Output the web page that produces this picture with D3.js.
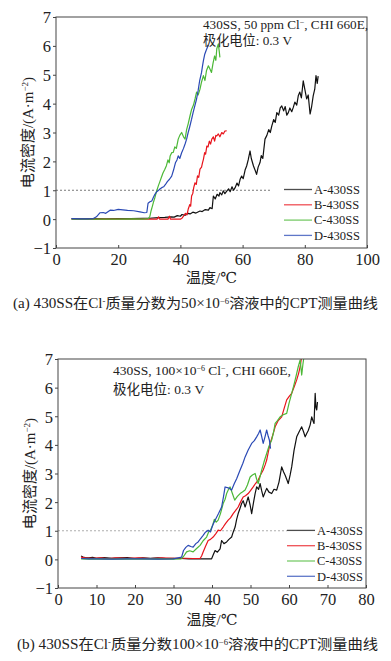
<!doctype html>
<html lang="zh">
  <head>
    <meta charset="utf-8">
    <title>430SS CPT</title>
    <style>
      body { margin: 0; background: #fff; }
      text { font-family: "Liberation Serif", "DejaVu Serif", "Noto Sans CJK SC", serif; fill: #222; }
    </style>
  </head>
  <body>
    <div id="chart"></div>
    <script src="https://cdn.jsdelivr.net/npm/d3@7"></script>
    <script>
    // sample names and colours
    var samples = ["A-430SS", "B-430SS", "C-430SS", "D-430SS"];
    var colors = ["#111111", "#e8141c", "#4cb837", "#2a49b5"];

    // panel (a): 50 ppm Cl-, [temperature, current density]
    var a_A = [[5,0.02],[8,0.01],[12,0.02],[16,0.01],[20,0.02],[24,0.02],[28,0.03],[30,0.03],[33,0.05],[35,0.06],[37,0.08],[38,0.07],[39,0.12],[40,0.1],[40.5,0.16],[41.5,0.13],[42.5,0.2],[43.1,0.18],[44,0.24],[45,0.21],[46.3,0.28],[47,0.26],[48,0.33],[49,0.31],[49.5,0.4],[50.2,0.36],[50.6,0.8],[51.2,0.7],[51.8,0.86],[52.4,0.8],[52.7,0.92],[53.3,0.84],[53.8,0.98],[54.3,0.88],[54.9,0.97],[55.5,1.05],[56,0.95],[56.6,1.12],[57.1,1.0],[57.6,1.09],[58.2,1.25],[58.7,1.15],[59.2,1.38],[59.7,1.49],[60.2,1.4],[60.8,1.7],[61.3,1.84],[61.8,2.05],[62.4,2.36],[62.8,2.1],[63.5,1.84],[64,1.7],[64.5,1.55],[65,1.8],[65.6,1.96],[66,2.2],[66.5,2.1],[67.2,2.77],[67.8,2.9],[68.4,3.1],[68.9,3.0],[69.4,3.23],[70,3.45],[70.5,3.35],[71,3.69],[71.6,3.6],[72.1,3.85],[72.6,3.92],[73.2,3.75],[73.7,3.9],[74.2,3.6],[74.7,3.69],[75.2,3.85],[75.8,3.72],[76.3,3.87],[76.8,4.05],[77.4,3.95],[77.9,4.27],[78.4,4.4],[78.9,4.2],[79.5,4.79],[80,4.5],[80.6,4.16],[81.1,4.3],[81.7,3.64],[82.2,3.9],[82.7,4.27],[83.2,4.5],[83.6,4.97],[84,4.7],[84.3,4.95]];
    var a_B = [[5,0],[10,0],[20,0],[30,0],[32.5,0],[33,0.08],[33.3,0],[36,0],[36.5,0.1],[36.8,0],[40,0],[40.4,0.02],[41,0.1],[41.6,0.2],[42.1,0.15],[42.5,0.34],[43,0.5],[43.3,0.45],[43.6,0.8],[44,0.9],[44.3,1.1],[44.7,1.26],[45.1,1.2],[45.5,1.5],[45.9,1.45],[46.3,1.73],[46.8,1.8],[47.1,1.95],[47.4,2.07],[47.8,2.3],[48.1,2.25],[48.5,2.53],[48.9,2.5],[49.3,2.7],[49.7,2.6],[50.1,2.77],[50.6,2.85],[51.0,2.7],[51.4,2.9],[51.7,2.88],[52.2,2.95],[52.7,2.85],[53.3,3.0],[53.8,2.95],[54.3,3.05],[54.9,3.06]];
    var a_C = [[5,0],[10,0],[15,0],[20,0],[25,0.01],[28,0],[29.7,0.02],[30.2,0.1],[30.6,0.3],[31.0,0.45],[31.3,0.57],[31.8,0.75],[32.3,0.95],[32.9,1.15],[33.4,1.3],[33.9,1.45],[34.4,1.6],[35,1.73],[35.5,1.85],[36,2.05],[36.4,1.95],[36.7,2.19],[37.2,2.3],[37.7,2.31],[38.2,2.5],[38.7,2.45],[39.3,2.77],[39.8,2.9],[40.4,3.0],[41,2.85],[41.5,2.77],[42,3.1],[42.5,3.3],[43.1,3.58],[43.6,3.8],[44.2,3.95],[44.7,4.16],[45.2,4.4],[45.7,4.3],[46.3,4.5],[46.8,4.75],[47.4,4.97],[47.9,4.8],[48.4,5.15],[49,5.31],[49.5,5.2],[50,5.08],[50.5,5.4],[51,5.65],[51.4,5.5],[51.7,5.9],[52.2,6.07],[52.5,5.8],[52.7,5.6]];
    var a_D = [[5,0.02],[8,0.01],[10,0.01],[12,0.02],[13,0.08],[14.1,0.22],[15.2,0.23],[16,0.2],[17.4,0.31],[18.5,0.3],[20,0.34],[21.5,0.32],[23,0.3],[25,0.29],[27,0.25],[28.4,0.22],[29.2,0.23],[29.6,0.55],[30.2,0.6],[30.8,0.63],[31.3,0.75],[31.8,0.86],[32.4,0.95],[33,1.0],[33.5,1.05],[34,1.09],[34.6,1.12],[35.2,1.2],[35.8,1.3],[36.5,1.38],[37.2,1.49],[37.8,1.7],[38.4,1.95],[38.9,2.05],[39.3,2.19],[39.8,2.1],[40.4,2.3],[41,2.45],[41.5,2.6],[42,2.77],[42.5,3.0],[43,3.2],[43.6,3.46],[44.1,3.7],[44.7,3.95],[45.2,4.16],[45.7,4.45],[46.2,4.8],[46.8,5.08],[47.1,5.3],[47.4,5.49],[47.8,5.7],[48.3,5.85],[49,6.03]];

    // panel (b): 100x10^-6 Cl-
    var b_A = [[6,0.12],[6.5,0.08],[7,0.06],[8,0.05],[9,0.07],[10,0.04],[12,0.06],[14,0.04],[16,0.05],[18,0.06],[20,0.03],[22,0.05],[24,0.04],[26,0.05],[28,0.03],[30,0.04],[32,0.03],[34,0.02],[36,0.02],[38,0.02],[39.9,0.02],[40.3,0.15],[40.8,0.31],[41.4,0.25],[42.1,0.37],[42.5,0.66],[43.1,0.55],[43.8,0.61],[44.4,0.7],[45.1,0.78],[45.5,0.95],[46,1.13],[46.4,1.4],[46.8,1.6],[47.2,1.75],[47.7,1.95],[48.1,2.05],[48.6,1.83],[49,2.0],[49.4,2.18],[49.9,1.9],[50.3,1.6],[50.8,2.0],[51.2,2.3],[51.6,2.53],[52.1,2.45],[52.5,2.65],[52.9,2.4],[53.3,2.18],[53.8,2.35],[54.2,2.48],[54.8,2.35],[55.5,2.3],[56.1,2.45],[56.8,2.42],[57.4,2.7],[58.1,3.23],[58.6,3.05],[59,2.94],[59.4,2.8],[59.8,2.65],[60.3,2.95],[60.7,3.23],[61.3,3.8],[62,4.28],[62.6,4.45],[63.3,4.63],[63.8,4.45],[64.2,4.28],[64.6,4.4],[65,4.5],[65.5,4.7],[65.9,4.98],[66.2,4.85],[66.5,4.75],[66.8,5.8],[67.0,5.3],[67.2,5.22],[67.4,5.5]];
    var b_B = [[6,0.08],[7,0.05],[9,0.04],[11,0.05],[13,0.03],[15,0.05],[18,0.04],[21,0.05],[24,0.03],[27,0.05],[30,0.04],[33,0.04],[35,0.03],[36.9,0.03],[37.3,0.12],[37.7,0.26],[38.3,0.45],[39,0.66],[39.6,0.7],[40.3,0.78],[41,0.9],[41.6,1.02],[42.2,1.0],[42.9,1.13],[43.5,1.25],[44.2,1.37],[44.8,1.45],[45.5,1.6],[46.1,1.7],[46.8,1.83],[47.4,2.0],[48.1,2.18],[48.7,2.22],[49.4,2.3],[50,2.4],[50.7,2.53],[51.3,2.65],[52,2.77],[52.6,2.95],[53.3,3.12],[53.8,3.3],[54.2,3.47],[54.7,3.8],[55.1,4.05],[55.8,4.35],[56.4,4.63],[57.2,4.85],[58.1,4.98],[58.8,5.3],[59.4,5.57],[60.1,5.7],[60.7,5.8],[61.4,6.05],[62,6.27],[62.5,6.5],[62.9,6.73],[63.2,7]];
    var b_C = [[6,0.02],[8,0.01],[10,0.02],[14,0.01],[18,0.02],[22,0.01],[26,0.02],[30,0.01],[32,0.02],[32.6,0.1],[33.4,0.26],[34.2,0.3],[35.1,0.26],[36,0.38],[36.9,0.49],[37.7,0.65],[38.6,0.78],[39.1,0.95],[39.6,1.02],[40.2,1.2],[40.6,1.4],[41.1,1.3],[41.6,1.37],[42.2,1.6],[42.9,1.95],[43.4,2.1],[43.8,2.3],[44.3,2.45],[44.7,2.53],[45.3,2.3],[45.9,2.07],[46.6,2.2],[47.3,2.3],[47.9,2.35],[48.6,2.42],[49.2,2.6],[49.9,2.88],[50.5,2.95],[51.2,3.0],[51.6,2.8],[52,2.65],[52.5,2.9],[52.9,3.12],[53.5,3.4],[54.2,3.7],[54.8,3.95],[55.5,4.17],[56,4.45],[56.4,4.75],[57,4.85],[57.7,4.98],[58.5,5.05],[59.4,5.1],[60,5.45],[60.7,5.8],[61.2,6.05],[61.6,6.27],[62,6.5],[62.4,6.73],[62.9,6.97],[63.3,6.44],[63.6,6.8],[63.8,7]];
    var b_D = [[6,0.03],[8,0.02],[10,0.02],[14,0.01],[18,0.02],[22,0.02],[26,0.01],[30,0.02],[32.1,0.08],[32.6,0.31],[33.2,0.42],[33.8,0.49],[34.5,0.45],[35.1,0.43],[35.8,0.55],[36.4,0.61],[37,0.72],[37.7,0.84],[38.3,0.95],[39,1.02],[39.6,0.96],[40.2,1.2],[40.8,1.37],[41.7,1.6],[42.5,1.83],[43,2.2],[43.4,2.53],[44.2,2.5],[45.1,2.42],[45.8,2.65],[46.4,2.82],[47.3,3.12],[48,3.35],[48.6,3.58],[49.4,3.82],[50.3,4.05],[51,4.15],[51.6,4.28],[52.1,4.4],[52.5,4.52],[52.9,4.3],[53.3,4.05],[53.8,4.3],[54.2,4.52],[54.6,4.3],[54.9,4.17],[55.2,3.87]];

    var ticksY = [-1, 0, 1, 2, 3, 4, 5, 6, 7];
    var ticksXa = [0, 20, 40, 60, 80, 100];
    var ticksXb = [0, 10, 20, 30, 40, 50, 60, 70, 80];

    var svg = d3.select("#chart").append("svg")
        .attr("width", 391)
        .attr("height", 661);

    function panel(o) {
      var x = d3.scaleLinear().domain([0, o.xmax]).range([o.left, o.right]);
      var y = d3.scaleLinear().domain([-1, 7]).range([o.bottom, o.top]);
      var g = svg.append("g");

      var clipId = "clip" + o.id;
      g.append("clipPath").attr("id", clipId)
        .append("rect")
        .attr("x", o.left).attr("y", o.top)
        .attr("width", o.right - o.left).attr("height", o.bottom - o.top);

      // reference line at 1 A/m2
      g.append("line")
        .attr("x1", x(0)).attr("x2", o.dashEnd)
        .attr("y1", y(1)).attr("y2", y(1))
        .attr("stroke", o.dashColor).attr("stroke-width", 0.8)
        .attr("stroke-dasharray", "2,2");

      var line = d3.line().x(function(d){ return x(d[0]); }).y(function(d){ return y(d[1]); });

      o.series.forEach(function(s, i){
        g.append("path")
          .datum(s)
          .attr("clip-path", "url(#" + clipId + ")")
          .attr("d", line)
          .attr("fill", "none")
          .attr("stroke", colors[i])
          .attr("stroke-width", 1.2)
          .attr("stroke-linejoin", "round");
      });

      // left axis, ticks outward
      var ya = g.append("g")
        .attr("transform", "translate(" + o.left + ",0)")
        .call(d3.axisLeft(y).tickValues(ticksY).tickSize(3).tickPadding(2)
          .tickFormat(function(d){ return d < 0 ? "\u2212" + (-d) : d; }));
      // bottom axis, ticks inward
      var xa = g.append("g")
        .attr("transform", "translate(0," + o.bottom + ")")
        .call(d3.axisBottom(x).tickValues(o.ticksX).tickSize(-3).tickPadding(4));
      [ya, xa].forEach(function(a){
        a.attr("font-family", null);
        a.select(".domain").remove();
        a.selectAll("line").attr("stroke", "#444");
        a.selectAll("text").attr("font-size", 16.5).attr("fill", "#222");
      });
      xa.selectAll("text").attr("dy", "0.8em");
      ya.selectAll("text").attr("dy", "0.36em");

      // frame
      g.append("rect")
        .attr("x", o.left).attr("y", o.top)
        .attr("width", o.right - o.left).attr("height", o.bottom - o.top)
        .attr("fill", "none").attr("stroke", "#444").attr("stroke-width", 1);

      // legend
      samples.forEach(function(name, i){
        var ly = o.legendY + i * 15.3;
        g.append("line")
          .attr("x1", o.legendX).attr("x2", o.legendX + 28)
          .attr("y1", ly).attr("y2", ly)
          .attr("stroke", colors[i]).attr("stroke-width", 1.3)
          .attr("stroke-opacity", 0.75);
        g.append("text")
          .attr("x", o.legendX + 30).attr("y", ly + 4.3)
          .attr("font-size", 12.5)
          .text(name);
      });

      // annotation
      var t1 = g.append("text").attr("x", o.noteX).attr("y", o.noteY).attr("font-size", o.noteSize);
      o.note1.forEach(function(p){
        var ts = t1.append("tspan").text(p[0]);
        if (p[1]) ts.attr("font-size", 8).attr("baseline-shift", "super");
      });
      g.append("text").attr("x", o.noteX).attr("y", o.noteY + o.noteGap).attr("font-size", o.noteSize)
        .text("极化电位: 0.3 V");

      // axis titles
      var yt = g.append("text")
        .attr("transform", "translate(" + o.ytX + "," + ((o.top + o.bottom) / 2) + ") rotate(-90)")
        .attr("text-anchor", "middle").attr("font-size", 15);
      yt.append("tspan").text("电流密度/(A·m");
      yt.append("tspan").text("−2").attr("font-size", 9).attr("baseline-shift", "super");
      yt.append("tspan").text(")");

      g.append("text")
        .attr("x", (o.left + o.right) / 2).attr("y", o.xtY)
        .attr("text-anchor", "middle").attr("font-size", 15)
        .text("温度/℃");

      // caption
      var cap = g.append("text")
        .attr("x", o.capX).attr("y", o.capY).attr("font-size", 14)
        .attr("textLength", o.capW).attr("lengthAdjust", "spacingAndGlyphs");
      o.caption.forEach(function(p){
        var ts = cap.append("tspan").text(p[0]);
        if (p[1]) ts.attr("font-size", 8).attr("baseline-shift", "super");
      });
    }

    panel({
      id: "a", xmax: 100, left: 56, right: 367, top: 17, bottom: 248,
      ticksX: ticksXa, series: [a_A, a_B, a_C, a_D],
      dashEnd: 272, dashColor: "#555", legendX: 284, legendY: 189.5,
      noteX: 203, noteY: 29, noteSize: 13.2, noteGap: 15.5,
      note1: [["430SS, 50 ppm Cl"], ["−", true], [", CHI 660E,"]],
      ytX: 33, xtY: 283,
      capX: 13, capY: 308, capW: 365,
      caption: [["(a) 430SS在Cl"], ["-", true], ["质量分数为50×10"], ["−6", true], ["溶液中的CPT测量曲线"]]
    });

    panel({
      id: "b", xmax: 80, left: 58, right: 366, top: 359, bottom: 588,
      ticksX: ticksXb, series: [b_A, b_B, b_C, b_D],
      dashEnd: 287, dashColor: "#999", legendX: 287, legendY: 530.4,
      noteX: 113, noteY: 375, noteSize: 13.5, noteGap: 18.5,
      note1: [["430SS, 100×10"], ["−6", true], [" Cl"], ["−", true], [", CHI 660E,"]],
      ytX: 35, xtY: 625,
      capX: 17, capY: 649, capW: 361,
      caption: [["(b) 430SS在Cl"], ["-", true], ["质量分数100×10"], ["−6", true], ["溶液中的CPT测量曲线"]]
    });
    </script>
  </body>
</html>
